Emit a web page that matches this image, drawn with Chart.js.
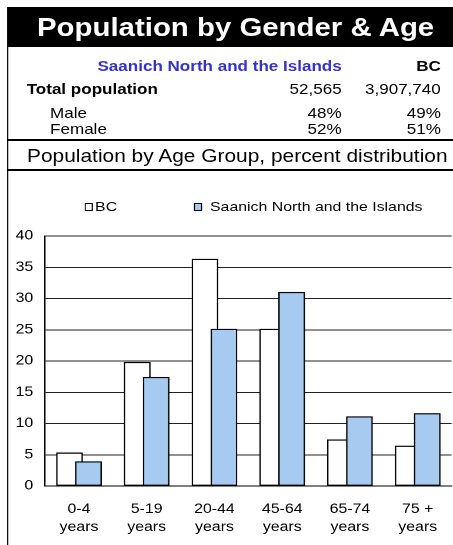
<!DOCTYPE html>
<html>
<head>
<meta charset="utf-8">
<script src="https://cdn.jsdelivr.net/npm/chart.js@4.4.1/dist/chart.umd.min.js"></script>
<style>
  html, body { margin:0; padding:0; background:#fff; width:453px; height:545px; overflow:hidden; }
  #page { position:absolute; left:0; top:0; width:385.5px; height:545px; transform:scaleX(1.1751); transform-origin:0 0; font-family:"Liberation Sans", Arial, sans-serif; color:#000; }
  .t { position:absolute; white-space:nowrap; line-height:0; }
  .b { font-weight:bold; }
  .r14 { font-size:14.5px; }
  .ln { position:absolute; background:#000; }
  .lbox { position:absolute; width:6.8px; height:8px; box-sizing:border-box; border:1px solid #000; }
  #chartWrap { position:absolute; left:0; top:171px; width:385.5px; height:374px; }
</style>
</head>
<body>
<div id="page">
  <div class="ln" style="left:5.96px; top:7px; width:379.6px; height:40px;"></div>
  <div class="t b" style="left:31.5px; top:27.3px; font-size:25px; color:#fff;">Population by Gender &amp; Age</div>

  <div class="ln" style="left:5.96px; top:47px; width:1.3px; height:498px;"></div>

  <div class="t b r14" style="right:94.7px; top:65.5px; color:#3333cc;">Saanich North and the Islands</div>
  <div class="t b r14" style="right:10.4px; top:65.5px;">BC</div>

  <div class="t b r14" style="left:22.7px; top:89px;">Total population</div>
  <div class="t r14" style="right:94.7px; top:89px;">52,565</div>
  <div class="t r14" style="right:10.4px; top:89px;">3,907,740</div>

  <div class="t r14" style="left:42.6px; top:112.5px;">Male</div>
  <div class="t r14" style="right:94.7px; top:112.5px;">48%</div>
  <div class="t r14" style="right:10.4px; top:112.5px;">49%</div>

  <div class="t r14" style="left:42.6px; top:128.8px;">Female</div>
  <div class="t r14" style="right:94.7px; top:128.8px;">52%</div>
  <div class="t r14" style="right:10.4px; top:128.8px;">51%</div>

  <div class="ln" style="left:5.96px; top:139px; width:379.6px; height:2px;"></div>
  <div class="t" style="left:23px; top:155.6px; font-size:17.8px;">Population by Age Group, percent distribution</div>
  <div class="ln" style="left:5.96px; top:169px; width:379.6px; height:1.6px;"></div>

  <div id="chartWrap"><canvas id="c"></canvas></div>

  <div class="lbox" style="left:72.3px; top:203px; background:#ffffff;"></div>
  <div class="t" style="left:80.9px; top:207px; font-size:13.5px;">BC</div>
  <div class="lbox" style="left:165.1px; top:203px; background:#a6caf0;"></div>
  <div class="t" style="left:178.7px; top:207px; font-size:13.5px;">Saanich North and the Islands</div>
</div>

<script>
const categories = [['0-4','years'],['5-19','years'],['20-44','years'],['45-64','years'],['65-74','years'],['75 +','years']];
const bcValues = [5.3, 19.8, 36.3, 25.1, 7.4, 6.4];
const saanichValues = [3.9, 17.4, 25.1, 31.0, 11.1, 11.6];
const yTicks = [0, 5, 10, 15, 20, 25, 30, 35, 40];

const BAR_SHIFT = 0.14;
const FONT = '"Liberation Sans", Arial, sans-serif';

new Chart(document.getElementById('c'), {
  type: 'bar',
  data: {
    datasets: [
      {
        label: 'BC',
        data: categories.map((c, i) => ({ x: i - BAR_SHIFT, y: bcValues[i] })),
        backgroundColor: '#ffffff',
        borderColor: '#000000',
        borderWidth: 1.2,
        borderSkipped: false,
        barThickness: 22.1,
        grouped: false,
        order: 1
      },
      {
        label: 'Saanich North and the Islands',
        data: categories.map((c, i) => ({ x: i + BAR_SHIFT, y: saanichValues[i] })),
        backgroundColor: '#a6caf0',
        borderColor: '#000000',
        borderWidth: 1.2,
        borderSkipped: false,
        barThickness: 22.1,
        grouped: false,
        order: 0
      }
    ]
  },
  options: {
    responsive: true,
    maintainAspectRatio: false,
    devicePixelRatio: 2,
    animation: false,
    layout: { padding: { top: 65, left: 0, right: 0, bottom: 0 } },
    plugins: { legend: { display: false }, tooltip: { enabled: false } },
    scales: {
      x: {
        type: 'linear',
        min: -0.5,
        max: 5.5,
        offset: false,
        afterBuildTicks: (s) => { s.ticks = categories.map((c, i) => ({ value: i })); },
        afterFit: (s) => { s.height = 59; },
        grid: { display: false, drawTicks: false, offset: false },
        border: { display: true, color: '#000', width: 1 },
        ticks: {
          autoSkip: false,
          maxRotation: 0,
          padding: 14,
          color: '#000',
          font: { family: FONT, size: 13.5, lineHeight: 1.35 },
          callback: (v) => categories[v]
        }
      },
      y: {
        min: 0,
        max: 40,
        afterBuildTicks: (s) => { s.ticks = yTicks.map(v => ({ value: v })); },
        afterFit: (s) => { s.width = 38.3; },
        grid: { color: '#222', lineWidth: 1, drawTicks: false },
        border: { display: true, color: '#000', width: 1.2 },
        ticks: { padding: 10, color: '#000', font: { family: FONT, size: 13.5 } }
      }
    }
  }
});
</script>
</body>
</html>
